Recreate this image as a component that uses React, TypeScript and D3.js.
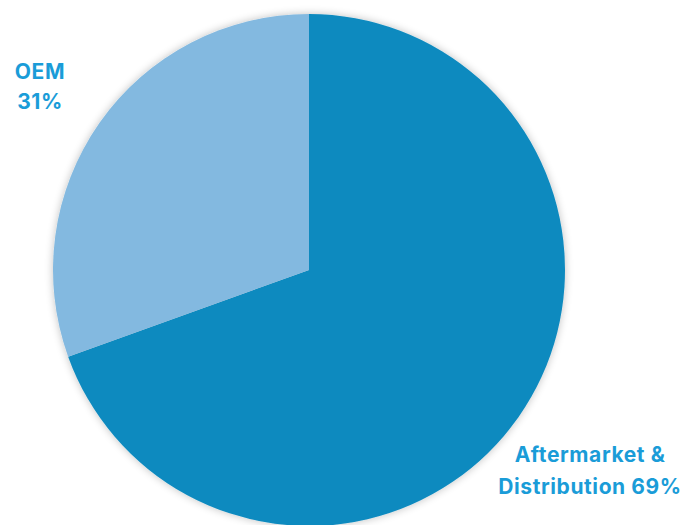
import React from "react";
import * as d3 from "d3";

const categories = ["Aftermarket & Distribution", "OEM"];
const values = [69.5, 30.5];
const labels = ["69%", "31%"];
const colors = ["#0E8ABF", "#83B9E0"];

export default function App() {
  const width = 687, height = 525;
  const cx = 309, cy = 270, r = 256;
  const pie = d3.pie<number>().sort(null).value((d) => d)(values);
  const arc = d3.arc<d3.PieArcDatum<number>>().innerRadius(0).outerRadius(r);
  return (
    <svg width={width} height={height} style={{ position: "absolute", left: 0, top: 0 }}>
      <defs>
        <filter id="sh" x="-10%" y="-10%" width="120%" height="120%">
          <feGaussianBlur in="SourceAlpha" stdDeviation="4" />
          <feOffset dx="0" dy="0" />
          <feComponentTransfer><feFuncA type="linear" slope="0.25" /></feComponentTransfer>
          <feMerge><feMergeNode /><feMergeNode in="SourceGraphic" /></feMerge>
        </filter>
      </defs>
      <g transform={`translate(${cx},${cy})`} filter="url(#sh)">
        {pie.map((p, i) => (
          <path key={categories[i]} d={arc(p) || ""} fill={colors[i]} />
        ))}
      </g>
      <g fontFamily="Inter, 'Noto Sans', sans-serif" fontWeight="bold" fontSize="21" letterSpacing="0.6" fill="#1A9CD8" textAnchor="middle">
        <text x={40} y={79}>{categories[1]}</text>
        <text x={40} y={109}>{labels[1]}</text>
        <text x={590} y={462}>Aftermarket &amp;</text>
        <text x={590} y={494}>Distribution {labels[0]}</text>
      </g>
    </svg>
  );
}
